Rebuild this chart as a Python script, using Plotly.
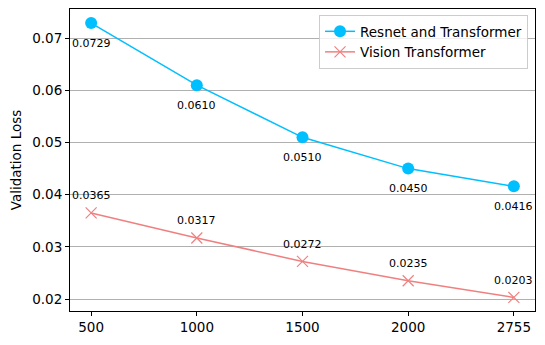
import plotly.graph_objects as go

sizes = ["500", "1000", "1500", "2000", "2755"]
resnet_loss = [0.0729, 0.0610, 0.0510, 0.0450, 0.0416]
vit_loss = [0.0365, 0.0317, 0.0272, 0.0235, 0.0203]

BLUE = "#00BFFF"
RED = "#F08080"
FONT = "DejaVu Sans"

fig = go.Figure()
fig.add_trace(go.Scatter(
    x=sizes, y=resnet_loss, name="Resnet and Transformer",
    mode="lines+markers",
    line=dict(color=BLUE, width=1.5),
    marker=dict(symbol="circle", size=12, color=BLUE),
))
fig.add_trace(go.Scatter(
    x=sizes, y=vit_loss, name="Vision Transformer",
    mode="lines+markers",
    line=dict(color=RED, width=1.5),
    marker=dict(symbol="x-thin", size=11, color=RED,
                line=dict(color=RED, width=1.2)),
))

# value labels: below the blue points, above the red ones
# (category axis -> annotations placed by category index)
for i, y in enumerate(resnet_loss):
    fig.add_annotation(x=i, y=y, text=f"{y:.4f}", showarrow=False,
                       yshift=-20, font=dict(size=11, color="black", family=FONT))
for i, y in enumerate(vit_loss):
    fig.add_annotation(x=i, y=y, text=f"{y:.4f}", showarrow=False,
                       yshift=17, font=dict(size=11, color="black", family=FONT))

# page body has an 8px default margin, so the figure is 8px smaller
fig.update_layout(
    width=537, height=337,
    margin=dict(l=62, r=10, t=1, b=34, autoexpand=False),
    paper_bgcolor="white", plot_bgcolor="white",
    font=dict(family=FONT, size=13.5, color="black"),
    showlegend=True,
    legend=dict(
        x=0.985, y=0.98, xanchor="right", yanchor="top",
        bgcolor="rgba(255,255,255,0.8)", bordercolor="#cccccc", borderwidth=1,
        font=dict(size=13.5),
    ),
)
fig.update_xaxes(
    type="category", range=[-0.2, 4.2],
    showgrid=False, ticks="outside", ticklen=4, tickcolor="black",
    showline=True, linecolor="black", linewidth=1, mirror=True,
)
fig.update_yaxes(
    range=[0.0177, 0.0756], dtick=0.01, tickformat=".2f",
    showgrid=True, gridcolor="#b0b0b0", gridwidth=1,
    ticks="outside", ticklen=4, tickcolor="black",
    showline=True, linecolor="black", linewidth=1, mirror=True,
    zeroline=False,
    title=dict(text="Validation Loss", font=dict(size=13.5), standoff=8),
)

fig.write_html("out.html")
